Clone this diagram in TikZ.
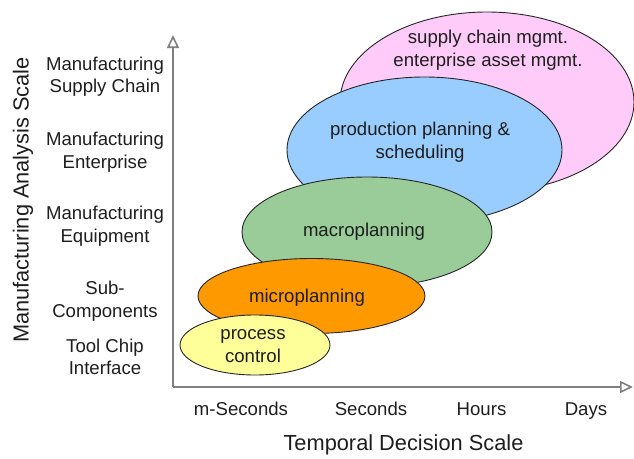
\documentclass[tikz,border=0pt]{standalone}
\usepackage{fontspec}
\setmainfont{Liberation Sans}
\usetikzlibrary{arrows.meta}
\definecolor{pinkfill}{RGB}{255,204,250}
\definecolor{bluefill}{RGB}{153,204,255}
\definecolor{greenfill}{RGB}{153,204,153}
\definecolor{orangefill}{RGB}{255,153,0}
\definecolor{yellowfill}{RGB}{255,255,153}
\definecolor{axisgray}{RGB}{128,128,128}
\definecolor{txt}{RGB}{30,30,30}
\tikzset{
  blob/.style={draw=black!85, line width=0.9pt},
  axisline/.style={draw=axisgray, line width=2pt, -{Triangle[open, length=13pt, width=12pt, line width=1.6pt]}},
  lbl/.style={text=txt, align=center, inner sep=0pt, font=\fontsize{18.6}{22.5}\selectfont},
  bigl/.style={text=txt, align=center, inner sep=0pt, font=\fontsize{21.8}{26}\selectfont},
}
\begin{document}
\begin{tikzpicture}[x=1pt, y=-1pt]
\useasboundingbox (0,0) rectangle (634,458);
% ellipses, back to front
\draw[blob, fill=pinkfill] (487,102) ellipse [x radius=147pt, y radius=90pt];
\draw[blob, fill=bluefill] (424.5,150) ellipse [x radius=137.5pt, y radius=73pt];
\draw[blob, fill=greenfill] (367,232) ellipse [x radius=125pt, y radius=55pt];
\draw[blob, fill=orangefill] (311.5,296) ellipse [x radius=113.5pt, y radius=37.5pt];
\draw[blob, fill=yellowfill] (255,345) ellipse [x radius=75pt, y radius=30pt];
% ellipse texts
\node[lbl] (scm) at (488,50) {supply chain mgmt.\\enterprise asset mgmt.};
\node[lbl] (pps) at (420,142) {production planning \&\\scheduling};
\node[lbl] (mac) at (364,232) {macroplanning};
\node[lbl] (mic) at (307,298) {microplanning};
\node[lbl] (pc) at (253,346) {process\\control};
% axes
\coordinate (origin) at (173,387);
\coordinate (ytip) at (173,35);
\coordinate (xtip) at (633,387);
\draw[axisline] (origin) -- (ytip);
\draw[axisline] (origin) -- (xtip);
% left labels
\node[lbl] (l1) at (105,76.5) {Manufacturing\\Supply Chain};
\node[lbl] (l2) at (105,152) {Manufacturing\\Enterprise};
\node[lbl] (l3) at (105,226) {Manufacturing\\Equipment};
\node[lbl] (l4) at (105,301) {Sub-\\Components};
\node[lbl] (l5) at (105,357) {Tool Chip\\Interface};
\node[bigl, rotate=90] (ytitle) at (23,200) {Manufacturing Analysis Scale};
% x labels
\node[lbl, anchor=base] (t1) at (241,415) {m-Seconds};
\node[lbl, anchor=base] (t2) at (371,415) {Seconds};
\node[lbl, anchor=base] (t3) at (481.5,415) {Hours};
\node[lbl, anchor=base] (t4) at (586,415) {Days};
\node[bigl, anchor=base] (xtitle) at (403.5,450) {Temporal Decision Scale};
\end{tikzpicture}
\end{document}
